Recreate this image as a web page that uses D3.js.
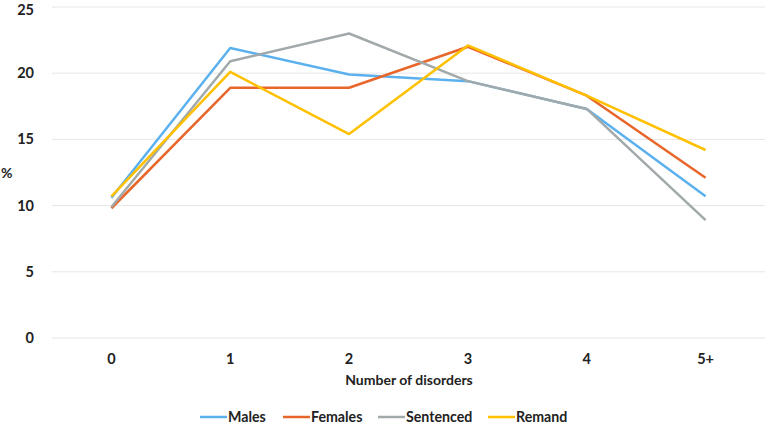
<!DOCTYPE html>
<html><head><meta charset="utf-8">
<script src="https://cdn.jsdelivr.net/npm/d3@7"></script>
<style>body{margin:0;background:#fff}text{font-family:Lato,"Open Sans",sans-serif;font-weight:bold;fill:#222}</style>
</head><body><svg id="c" width="767" height="427"></svg>
<script>
const categories = ["0","1","2","3","4","5+"];
const males = [10.6, 21.9, 19.9, 19.4, 17.3, 10.7];
const females = [9.8, 18.9, 18.9, 22.0, 18.3, 12.1];
const sentenced = [9.9, 20.9, 23.0, 19.4, 17.3, 8.9];
const remand = [10.7, 20.1, 15.4, 22.1, 18.3, 14.2];
const yTicks = [0,5,10,15,20,25];
const seriesNames = ["Males","Females","Sentenced","Remand"];
const colors = ["#5BB1EE","#E8662A","#A2A9AA","#FFC000"];
const series = [males, females, sentenced, remand];

const svg = d3.select("#c");
const x = d3.scaleBand().domain(categories).range([52,765]);
const y = d3.scaleLinear().domain([0,25]).range([338,7]);

svg.append("g").selectAll("line").data(yTicks).join("line")
  .attr("x1",52).attr("x2",765).attr("y1",d=>y(d)).attr("y2",d=>y(d))
  .attr("stroke","#e6e6e6").attr("stroke-width",1);
svg.append("g").selectAll("text").data(yTicks).join("text")
  .attr("x",34).attr("y",d=>Math.max(y(d)+5,14.5)).attr("text-anchor","end").attr("font-size",14.5).text(d=>d);
svg.append("g").selectAll("text").data(categories).join("text")
  .attr("x",d=>x(d)+x.bandwidth()/2).attr("y",364).attr("text-anchor","middle").attr("font-size",14.5).text(d=>d);
svg.append("text").attr("x",1).attr("y",178).attr("font-size",14).text("%");
svg.append("text").attr("x",409).attr("y",385).attr("text-anchor","middle").attr("font-size",14).text("Number of disorders");

const line = d3.line().x((d,i)=>x(categories[i])+x.bandwidth()/2).y(d=>y(d));
svg.append("g").selectAll("path").data(series).join("path")
  .attr("d",line).attr("fill","none").attr("stroke",(d,i)=>colors[i]).attr("stroke-width",2.5).attr("stroke-linejoin","round");

const lx = [200, 283, 378, 488];
const lg = svg.append("g").selectAll("g").data(seriesNames).join("g").attr("transform",(d,i)=>`translate(${lx[i]},417)`);
lg.append("line").attr("x1",0).attr("x2",27).attr("stroke",(d,i)=>colors[i]).attr("stroke-width",2.5);
lg.append("text").attr("x",28).attr("y",5).attr("font-size",14.2).text(d=>d);
</script></body></html>
